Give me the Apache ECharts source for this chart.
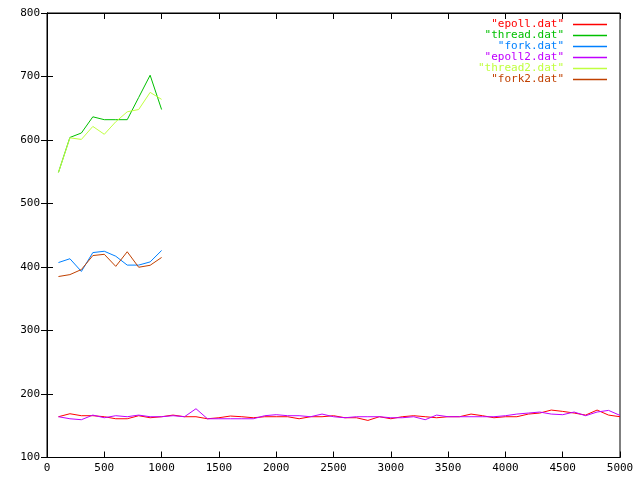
<!DOCTYPE html>
<html>
<head>
<meta charset="utf-8">
<script src="https://cdn.jsdelivr.net/npm/echarts@6/dist/echarts.min.js"></script>
<style>html,body{margin:0;padding:0;background:#fff}#c{width:640px;height:480px}</style>
</head>
<body>
<div id="c"></div>
<script>
const xLong = [];
for (let i = 1; i <= 50; i++) xLong.push(i * 100);
const xShort = [100, 200, 300, 400, 500, 600, 700, 800, 900, 1000];

const epoll = [164.2, 168.9, 165.8, 165.8, 164.2, 161, 161, 165.8, 162.6, 164.2,
  166.8, 164.2, 164.2, 161, 162.6, 165.3, 164.2, 162.6, 164.2, 164.2,
  164.2, 161, 164.2, 164.2, 165.8, 162.6, 162.6, 158.4, 164.2, 161,
  164.2, 165.8, 164.2, 162.6, 164.2, 164.2, 168.4, 165.8, 162.6, 164.2,
  164.2, 168.4, 170, 174.7, 172.6, 170, 166.8, 174.7, 166.8, 164.2];
const thread = [549, 604, 611, 636.5, 632, 632, 632, 667, 702, 648];
const fork = [407, 413, 393, 422.7, 424.8, 417, 403, 403, 408, 426];
const epoll2 = [164.2, 161, 159.5, 166.8, 162.6, 165.8, 164.2, 166.8, 164.2, 164.2,
  165.8, 164.2, 176.8, 161, 161, 161, 161, 161, 165.8, 167.4,
  165.8, 165.8, 164.2, 168.4, 164.2, 162.6, 164.2, 164.2, 164.2, 162.6,
  162.6, 164.2, 159.5, 166.8, 164.2, 164.2, 164.2, 164.2, 164.2, 165.8,
  168.4, 170, 171.6, 168.4, 167.4, 171.6, 165.8, 171.6, 174.2, 166.3];
const thread2 = [549, 603.4, 600.9, 621.4, 609, 628.7, 644.4, 648, 675, 664];
const fork2 = [385, 388, 396, 418, 420, 401, 424, 399.6, 402.7, 415];

const names = ['"epoll.dat"', '"thread.dat"', '"fork.dat"', '"epoll2.dat"', '"thread2.dat"', '"fork2.dat"'];
const colors = ['#ff0000', '#00c000', '#0080ff', '#c000ff', '#c0ff40', '#c04000'];
const xs = [xLong, xShort, xShort, xLong, xShort, xShort];
const ys = [epoll, thread, fork, epoll2, thread2, fork2];

const font = '"DejaVu Sans Mono", monospace';
const chart = echarts.init(document.getElementById('c'), null, {renderer: 'canvas'});
const series = names.map((n, i) => ({
  name: n,
  type: 'line',
  data: xs[i].map((x, j) => [x, ys[i][j]]),
  showSymbol: false,
  symbol: 'none',
  lineStyle: {color: colors[i], width: 1},
  itemStyle: {color: colors[i]},
  animation: false
}));

const tickStyle = {show: true, inside: true, length: 6, lineStyle: {color: '#000', width: 1}};
const plain = v => String(v);
chart.setOption({
  animation: false,
  backgroundColor: '#fff',
  grid: {left: 47, right: 20, top: 13, bottom: 22.5, show: true, borderColor: '#000', borderWidth: 1},
  legend: {
    orient: 'vertical', right: 28, top: 14, align: 'right',
    icon: 'rect', itemWidth: 34, itemHeight: 1.5, itemGap: 0,
    data: names.map((n, i) => ({name: n, textStyle: {color: colors[i]}})),
    textStyle: {fontFamily: font, fontSize: 11, lineHeight: 11, padding: [0, 4, 0, 0]},
    selectedMode: false
  },
  xAxis: [{
    type: 'value', min: 0, max: 5000, interval: 500, position: 'bottom',
    axisLine: {show: true, lineStyle: {color: '#000'}},
    axisTick: tickStyle, splitLine: {show: false},
    axisLabel: {color: '#000', fontFamily: font, fontSize: 11, margin: 5, formatter: plain}
  }, {
    type: 'value', min: 0, max: 5000, interval: 500, position: 'top',
    axisLine: {show: true, lineStyle: {color: '#000'}},
    axisTick: tickStyle, splitLine: {show: false}, axisLabel: {show: false}
  }],
  yAxis: [{
    type: 'value', min: 100, max: 800, interval: 100, position: 'left',
    axisLine: {show: true, lineStyle: {color: '#000'}},
    axisTick: tickStyle, splitLine: {show: false},
    axisLabel: {color: '#000', fontFamily: font, fontSize: 11, margin: 7, formatter: plain}
  }, {
    type: 'value', min: 100, max: 800, interval: 100, position: 'right',
    axisLine: {show: true, lineStyle: {color: '#000'}},
    axisTick: tickStyle, splitLine: {show: false}, axisLabel: {show: false}
  }],
  series: series
});
</script>
</body>
</html>
